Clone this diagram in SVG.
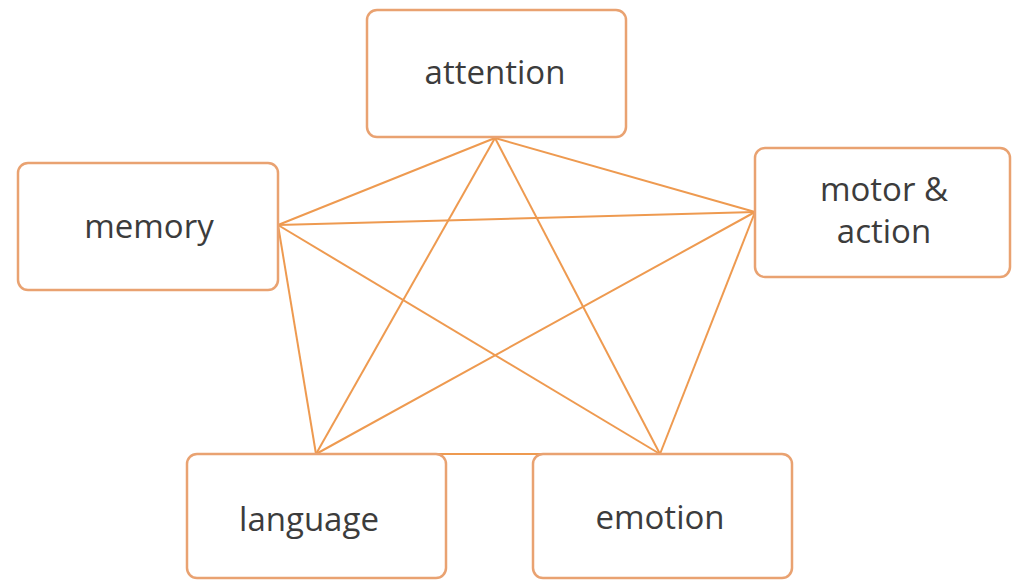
<svg xmlns="http://www.w3.org/2000/svg" width="1012" height="581" viewBox="0 0 1012 581">
<style>
.box{fill:#ffffff;stroke:#e9a271;stroke-width:2.5}
.lbl{font-family:"Open Sans","Liberation Sans",sans-serif;font-size:33px;fill:#3c3c3c;text-anchor:middle}
.edge{stroke:#ee9a50;stroke-width:2;fill:none}
</style>
<rect width="1012" height="581" fill="#ffffff"/>
<g id="connectors">
<line class="edge" x1="495" y1="138" x2="278" y2="225"/>
<line class="edge" x1="495" y1="138" x2="755" y2="212"/>
<line class="edge" x1="495" y1="138" x2="316" y2="454"/>
<line class="edge" x1="495" y1="138" x2="660" y2="454"/>
<line class="edge" x1="278" y1="225" x2="755" y2="212"/>
<line class="edge" x1="278" y1="225" x2="316" y2="454"/>
<line class="edge" x1="278" y1="225" x2="660" y2="454"/>
<line class="edge" x1="755" y1="212" x2="316" y2="454"/>
<line class="edge" x1="755" y1="212" x2="660" y2="454"/>
<line class="edge" x1="316" y1="454" x2="660" y2="454"/>
</g>
<g id="attention">
<rect class="box" x="367" y="10" width="259" height="127" rx="10"/>
<text class="lbl" x="495" y="84">attention</text>
</g>
<g id="memory">
<rect class="box" x="18" y="163" width="260" height="127" rx="10"/>
<text class="lbl" x="149" y="238">memory</text>
</g>
<g id="motor">
<rect class="box" x="755" y="148" width="255" height="129" rx="10"/>
<text class="lbl" x="884" y="201">motor &amp;</text>
<text class="lbl" x="884" y="243">action</text>
</g>
<g id="language">
<rect class="box" x="187" y="454" width="259" height="124" rx="10"/>
<text class="lbl" x="309" y="531">language</text>
</g>
<g id="emotion">
<rect class="box" x="533" y="454" width="259" height="124" rx="10"/>
<text class="lbl" x="660" y="529">emotion</text>
</g>
</svg>
